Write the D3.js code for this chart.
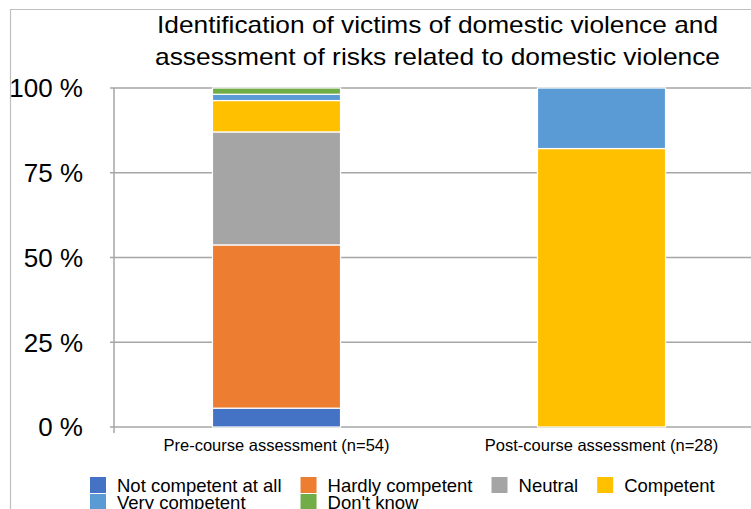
<!DOCTYPE html>
<html><head><meta charset="utf-8">
<script src="https://cdn.jsdelivr.net/npm/d3@7"></script>
<style>body{margin:0;background:#fff}svg{display:block;font-family:"Liberation Sans",Arial,sans-serif}</style>
</head><body><svg id="c" width="751" height="509"></svg>
<script>
const categories = ["Pre-course assessment (n=54)", "Post-course assessment (n=28)"];
const seriesNames = ["Not competent at all", "Hardly competent", "Neutral", "Competent", "Very competent", "Don't know"];
const seriesColors = ["#4472C4", "#ED7D31", "#A5A5A5", "#FFC000", "#5B9BD5", "#70AD47"];
const notCompetent = [5.56, 0];
const hardlyCompetent = [48.15, 0];
const neutral = [33.33, 0];
const competent = [9.26, 82.14];
const veryCompetent = [1.85, 17.86];
const dontKnow = [1.85, 0];
const yTicks = [0, 25, 50, 75, 100];
const titleLines = ["Identification of victims of domestic violence and", "assessment of risks related to domestic violence"];

(function () {
const seriesValues = [notCompetent, hardlyCompetent, neutral, competent, veryCompetent, dontKnow];
const rows = categories.map((c, i) => {
  const r = {cat: c};
  seriesNames.forEach((s, j) => r[s] = seriesValues[j][i]);
  return r;
});
const stack = d3.stack().keys(seriesNames)(rows);

const svg = d3.select("#c");
const pLeft = 114, pTop = 88, pBottom = 427, pRight = 764;
const x = d3.scaleBand().domain(categories).range([pLeft, pRight]).paddingInner(0).paddingOuter(0);
const y = d3.scaleLinear().domain([0, 100]).range([pBottom, pTop]);
const color = d3.scaleOrdinal().domain(seriesNames).range(seriesColors);

svg.append("path").attr("d", "M10.5,509 V9.5 H751").attr("fill", "none").attr("stroke", "#BFBFBF").attr("stroke-width", 1.2);

const titleW = [561, 565];
svg.append("g").selectAll("text").data(titleLines).join("text")
  .attr("x", 437.5).attr("y", (d, i) => 33 + i * 32)
  .attr("text-anchor", "middle").attr("font-size", 24).attr("fill", "#000")
  .attr("textLength", (d, i) => titleW[i]).attr("lengthAdjust", "spacingAndGlyphs")
  .text(d => d);

svg.append("g").selectAll("line").data(yTicks).join("line")
  .attr("x1", pLeft - 4).attr("x2", 751).attr("y1", d => y(d)).attr("y2", d => y(d))
  .attr("stroke", "#A6A6A6").attr("stroke-width", 1.5);

svg.append("g").selectAll("text").data(yTicks).join("text")
  .attr("x", 83).attr("y", d => y(d)).attr("dy", "0.36em")
  .attr("text-anchor", "end").attr("font-size", 26).attr("fill", "#000")
  .text(d => d + " %");

svg.append("line").attr("x1", pLeft).attr("x2", pLeft).attr("y1", pTop).attr("y2", pBottom + 6)
  .attr("stroke", "#A6A6A6").attr("stroke-width", 1.5);

const bw = x.bandwidth() * 0.394;
svg.append("g").selectAll("g").data(stack).join("g")
  .attr("fill", d => color(d.key))
  .selectAll("rect").data(d => d).join("rect")
  .attr("x", d => x(d.data.cat) + (x.bandwidth() - bw) / 2)
  .attr("width", bw)
  .attr("y", d => y(d[1]))
  .attr("height", d => Math.max(0, y(d[0]) - y(d[1])))
  .attr("stroke", "#fff").attr("stroke-width", 1.2)
  .attr("display", d => (d[1] - d[0]) > 0 ? null : "none");

svg.append("g").selectAll("text").data(categories).join("text")
  .attr("x", d => x(d) + x.bandwidth() / 2).attr("y", 451)
  .attr("text-anchor", "middle").attr("font-size", 16.5).attr("fill", "#000")
  .text(d => d);

const lg = svg.append("g").attr("font-size", 18.5);
const colStarts = [90];
const perRow = 4;
const tmp = lg.append("text").attr("visibility", "hidden");
const widths = seriesNames.map(s => { tmp.text(s); return tmp.node().getComputedTextLength(); });
tmp.remove();
const colW = [];
for (let c = 0; c < perRow; c++) {
  let m = 0;
  seriesNames.forEach((s, i) => { if (i % perRow === c) m = Math.max(m, widths[i]); });
  colW.push(m);
}
for (let c = 1; c < perRow; c++) colStarts.push(colStarts[c - 1] + 27 + colW[c - 1] + 19);
const items = lg.selectAll("g").data(seriesNames).join("g")
  .attr("transform", (d, i) => `translate(${colStarts[i % perRow]},${477 + Math.floor(i / perRow) * 17})`);
items.append("rect").attr("width", 16).attr("height", 16).attr("fill", d => color(d));
items.append("text").attr("x", 27).attr("y", 15).attr("fill", "#000").text(d => d);
})();
</script>
</body></html>
